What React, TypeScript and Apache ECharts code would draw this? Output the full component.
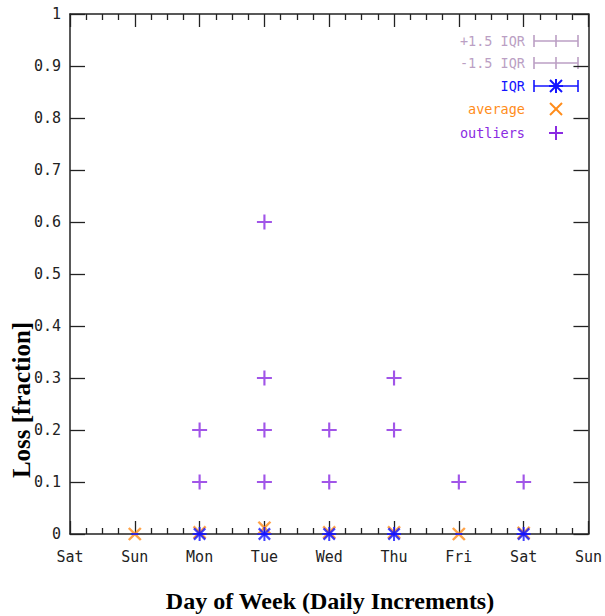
import React, { useEffect, useRef } from "react";
import * as echarts from "echarts";

// ---- data ----
const dayLabels = ["Sat", "Sun", "Mon", "Tue", "Wed", "Thu", "Fri", "Sat", "Sun"];
const dayPositions = [1, 2, 3, 4, 5, 6, 7]; // Sun .. Sat
const averages = [0, 0.003, 0.012, 0.003, 0.003, 0, 0.002];
const iqrDays = [2, 3, 4, 5, 7];
const iqrMedians = [0, 0, 0, 0, 0];
const outlierDays = [2, 2, 3, 3, 3, 3, 4, 4, 5, 5, 6, 7];
const outlierValues = [0.1, 0.2, 0.1, 0.2, 0.3, 0.6, 0.1, 0.2, 0.2, 0.3, 0.1, 0.1];
const legendLabels = ["+1.5 IQR", "-1.5 IQR", "IQR", "average", "outliers"];

const PURPLE = "#8a2be2";
const ORANGE = "#ff8c1a";
const BLUE = "#1414ff";
const MAUVE = "#bb9fc4";
const MONO = "'DejaVu Sans Mono', monospace";
const SERIF = "'Liberation Serif', 'Times New Roman', serif";
const PLUS = "path://M6,0H8V6H14V8H8V14H6V8H0V6H6Z";

export default function App() {
  const ref = useRef<HTMLDivElement>(null);
  useEffect(() => {
    if (!ref.current) return;
    const chart = echarts.init(ref.current, undefined, { renderer: "svg" });

    const axisLine = { show: true, onZero: false, lineStyle: { color: "#222", width: 1.5 } };
    const xCommon = {
      type: "value",
      min: 0,
      max: 8,
      interval: 1,
      axisLine,
      axisTick: { show: true, inside: true, length: 13, lineStyle: { color: "#222", width: 1.3 } },
      minorTick: { show: true, splitNumber: 4, length: 6, lineStyle: { color: "#222", width: 1.3 } },
      splitLine: { show: false },
      minorSplitLine: { show: false },
    };
    const yCommon = {
      type: "value",
      min: 0,
      max: 1,
      interval: 0.1,
      axisLine,
      axisTick: { show: true, inside: true, length: 15, lineStyle: { color: "#222", width: 1.3 } },
      splitLine: { show: false },
    };

    const legendY = [41, 63, 86, 109, 133];
    const legendColors = [MAUVE, MAUVE, BLUE, ORANGE, PURPLE];
    const sx0 = 534, sx1 = 578, sc = 556;
    const g: any[] = [];
    legendLabels.forEach((lab, i) => {
      const y = legendY[i];
      const c = legendColors[i];
      g.push({
        type: "text",
        x: 525,
        y,
        style: { text: lab, fill: c, font: `13.5px ${MONO}`, textAlign: "right", textVerticalAlign: "middle" },
      });
      const ls = { stroke: c, lineWidth: 1.6 };
      if (i < 3) {
        g.push({ type: "line", shape: { x1: sx0, y1: y, x2: sx1, y2: y }, style: ls });
        g.push({ type: "line", shape: { x1: sx0, y1: y - 6, x2: sx0, y2: y + 6 }, style: ls });
        g.push({ type: "line", shape: { x1: sx1, y1: y - 6, x2: sx1, y2: y + 6 }, style: ls });
      }
      if (i < 2) {
        g.push({ type: "line", shape: { x1: sc, y1: y - 6, x2: sc, y2: y + 6 }, style: ls });
      }
      if (i === 2 || i === 4) {
        g.push({ type: "line", shape: { x1: sc, y1: y - 7, x2: sc, y2: y + 7 }, style: { stroke: c, lineWidth: 2 } });
        g.push({ type: "line", shape: { x1: sc - 7, y1: y, x2: sc + 7, y2: y }, style: { stroke: c, lineWidth: 2 } });
      }
      if (i === 2 || i === 3) {
        g.push({ type: "line", shape: { x1: sc - 6, y1: y - 6, x2: sc + 6, y2: y + 6 }, style: { stroke: c, lineWidth: 2 } });
        g.push({ type: "line", shape: { x1: sc - 6, y1: y + 6, x2: sc + 6, y2: y - 6 }, style: { stroke: c, lineWidth: 2 } });
      }
    });
    g.push({
      type: "text",
      x: 330,
      y: 601,
      style: { text: "Day of Week (Daily Increments)", fill: "#000", font: `bold 24px ${SERIF}`, textAlign: "center", textVerticalAlign: "middle" },
    });
    g.push({
      type: "text",
      x: 21,
      y: 400,
      rotation: Math.PI / 2,
      style: { text: "Loss [fraction]", fill: "#000", font: `bold 25px ${SERIF}`, textAlign: "center", textVerticalAlign: "middle" },
    });

    chart.setOption({
      animation: false,
      backgroundColor: "#fff",
      grid: { left: 70, right: 12, top: 14, bottom: 82, containLabel: false },
      xAxis: [
        {
          ...xCommon,
          position: "bottom",
          axisLabel: {
            show: true,
            margin: 15,
            color: "#222",
            fontFamily: MONO,
            fontSize: 15,
            formatter: (v: number) => dayLabels[Math.round(v)] ?? "",
          },
        },
        { ...xCommon, position: "top", axisLabel: { show: false } },
      ],
      yAxis: [
        {
          ...yCommon,
          position: "left",
          axisLabel: { show: true, margin: 9, color: "#222", fontFamily: MONO, fontSize: 15 },
        },
        { ...yCommon, position: "right", axisLabel: { show: false } },
      ],
      graphic: g,
      series: [
        {
          name: "outliers",
          type: "scatter",
          symbol: PLUS,
          symbolSize: 15,
          itemStyle: { color: PURPLE },
          data: outlierDays.map((d, i) => [d, outlierValues[i]]),
          z: 3,
        },
        {
          name: "average",
          type: "scatter",
          symbol: PLUS,
          symbolSize: 17,
          symbolRotate: 45,
          itemStyle: { color: ORANGE },
          data: dayPositions.map((d, i) => [d, averages[i]]),
          z: 4,
        },
        {
          name: "IQR cap",
          type: "scatter",
          symbol: "rect",
          symbolSize: [7, 2],
          itemStyle: { color: BLUE },
          data: dayPositions.map((d) => [d, 0]),
          z: 5,
        },
        {
          name: "IQR",
          type: "scatter",
          symbol: PLUS,
          symbolSize: 14,
          itemStyle: { color: BLUE },
          data: iqrDays.map((d, i) => [d, iqrMedians[i]]),
          z: 5,
        },
        {
          name: "IQR x",
          type: "scatter",
          symbol: PLUS,
          symbolSize: 16,
          symbolRotate: 45,
          itemStyle: { color: BLUE },
          data: iqrDays.map((d, i) => [d, iqrMedians[i]]),
          z: 5,
        },
      ],
    });
    return () => chart.dispose();
  }, []);
  return (
    <div
      ref={ref}
      style={{ position: "fixed", left: 0, top: 0, width: 605, height: 616, background: "#fff" }}
    />
  );
}
